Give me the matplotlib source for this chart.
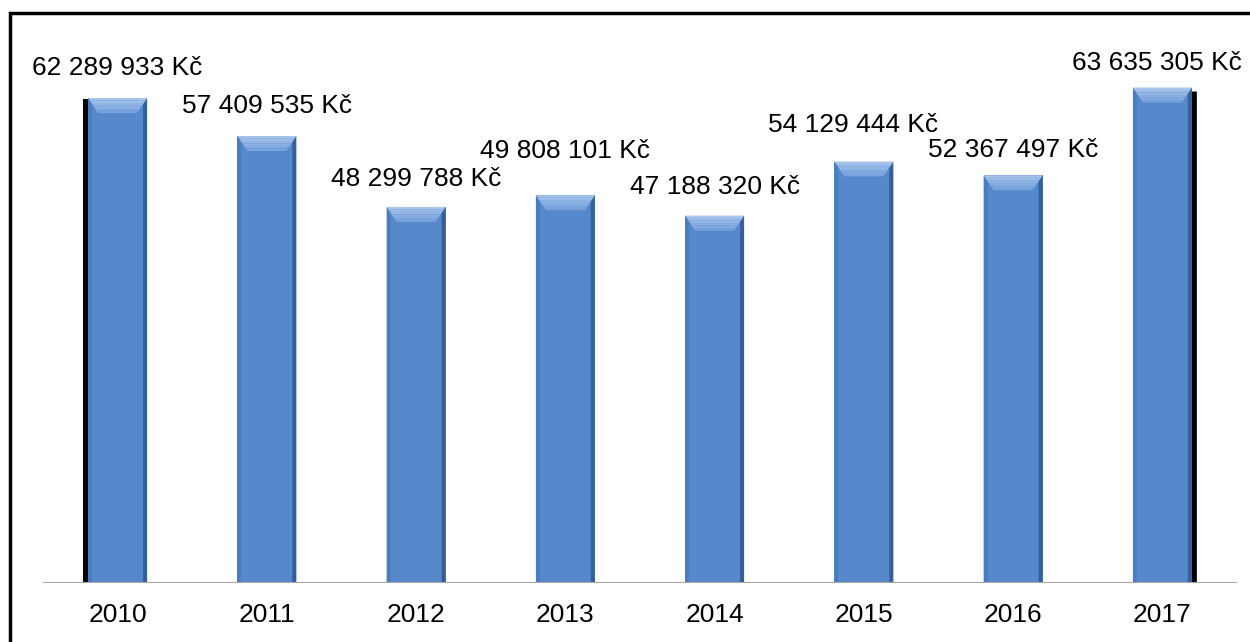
import matplotlib.pyplot as plt
import numpy as np
from matplotlib.patches import Polygon, Rectangle, FancyBboxPatch
from matplotlib.colors import to_rgb

# data
years = ['2010', '2011', '2012', '2013', '2014', '2015', '2016', '2017']
values = [62289933, 57409535, 48299788, 49808101, 47188320, 54129444, 52367497, 63635305]
value_labels = ['62 289 933 Kč', '57 409 535 Kč', '48 299 788 Kč', '49 808 101 Kč',
                '47 188 320 Kč', '54 129 444 Kč', '52 367 497 Kč', '63 635 305 Kč']

# label placement (pixels above bar top / sideways shift), as Excel laid them out
label_dy = [23, 23, 21, 37, 22, 30, 18, 18]
label_dx = [0, 0, 0, 0, 0, -11, 0, -5]

plt.rcParams['font.family'] = ['Liberation Sans', 'DejaVu Sans']

W, H = 1250, 642
fig = plt.figure(figsize=(W / 100, H / 100), dpi=100)
ax_left, ax_right, ax_base, ax_top = 43, 1237, 583, 13
ax = fig.add_axes([ax_left / W, (H - ax_base) / H,
                   (ax_right - ax_left) / W, (ax_base - ax_top) / H])

px_per_unit = 7.786 / 1e6
ymax = (ax_base - ax_top) / px_per_unit
ax.set_xlim(-0.5, len(years) - 0.5)
ax.set_ylim(0, ymax)

# pixel -> data helpers
dxp = len(years) / (ax_right - ax_left)
dyp = 1 / px_per_unit

bar_w = 0.395
body = '#5689cb'
light = '#a6c4ec'
dark = '#34609a'


def mix(c1, c2, t):
    a, b = np.array(to_rgb(c1)), np.array(to_rgb(c2))
    return tuple(a * (1 - t) + b * t)


x = range(len(years))
ax.bar(x, values, width=bar_w, color=body, edgecolor='none', zorder=2)

n = 6
for i, v in enumerate(values):
    l = i - bar_w / 2
    r = i + bar_w / 2
    bh = 15 * dyp
    bx = 10 * dxp
    sw = 4 * dxp
    # left / right bevel strips
    ax.add_patch(Polygon([(l, v), (l + sw, v - bh * 0.4), (l + sw, 0), (l, 0)],
                         closed=True, color='#4a7dbf', zorder=3, lw=0))
    ax.add_patch(Polygon([(r, v), (r - sw, v - bh * 0.4), (r - sw, 0), (r, 0)],
                         closed=True, color=dark, zorder=3, lw=0))
    # top bevel with a small gradient
    for k in range(n):
        t0, t1 = k / n, (k + 1) / n
        ax.add_patch(Polygon([(l + bx * t0, v - bh * t0), (r - bx * t0, v - bh * t0),
                              (r - bx * t1, v - bh * t1), (l + bx * t1, v - bh * t1)],
                             closed=True, color=mix(light, '#6e9bd8', t0),
                             zorder=3, lw=0))
    ax.annotate(value_labels[i], (i, v), xytext=(label_dx[i], label_dy[i]),
                textcoords='offset pixels', ha='center', va='baseline',
                fontsize=19, color='black', zorder=5)
    ax.annotate(years[i], (i, 0), xytext=(0, -39), textcoords='offset pixels',
                ha='center', va='baseline', fontsize=19, color='black')

# black shadows on first and last bar
sh = 5 * dxp
ax.add_patch(Rectangle((0 - bar_w / 2 - sh, 0), sh, values[0] - 1 * dyp,
                       color='black', zorder=1, lw=0))
ax.add_patch(FancyBboxPatch((7 + bar_w / 2 - 2 * dxp, 0), sh + 2 * dxp, values[7] - 4 * dyp,
                            boxstyle='round,pad=0', color='black', zorder=1, lw=0))

# baseline
ax.axhline(0, color='#a6a6a6', lw=1.5, zorder=4)

for s in ax.spines.values():
    s.set_visible(False)
ax.set_yticks([])
ax.set_xticks([])

# frame around the chart
fig.patches.append(Rectangle((10 / W, -0.05), 1.2, (H - 13) / H + 0.05,
                             transform=fig.transFigure, fill=False,
                             edgecolor='black', lw=2.5))

fig.savefig('out.png', dpi=100)
